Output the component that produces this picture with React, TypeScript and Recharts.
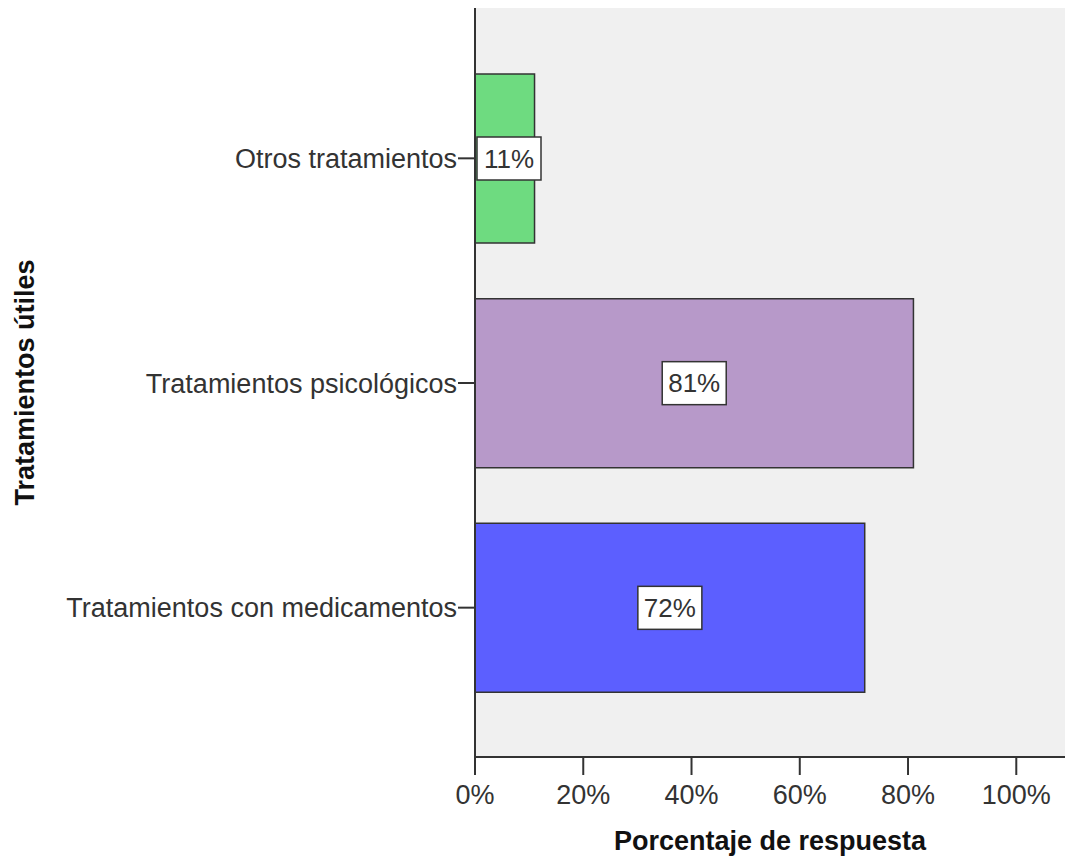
import React from "react";
import { BarChart, Bar, XAxis, YAxis, Cell, LabelList, CartesianGrid } from "recharts";

const categories = ["Otros tratamientos", "Tratamientos psicológicos", "Tratamientos con medicamentos"];
const percentages = [11, 81, 72];
const barColors = ["#6EDB80", "#B799C9", "#5C5FFF"];
const xTicks = [0, 20, 40, 60, 80, 100];

const data = categories.map((name, i) => ({ name, value: percentages[i] }));

const FONT = "'Liberation Sans', Arial, sans-serif";

const BoxLabel = (props: any) => {
  const { x, y, width, height, value } = props;
  const bw = 64;
  const bh = 43;
  const cx = x + width / 2;
  let left = cx - bw / 2;
  if (left < x + 2) left = x + 2;
  const top = y + height / 2 - bh / 2;
  return (
    <g>
      <rect x={left} y={top} width={bw} height={bh} fill="#ffffff" stroke="#333" strokeWidth={1.5} />
      <text
        x={left + bw / 2}
        y={top + bh / 2}
        textAnchor="middle"
        dominantBaseline="central"
        fontFamily={FONT}
        fontSize={26}
        fill="#333"
      >
        {`${value}%`}
      </text>
    </g>
  );
};

export default function App() {
  return (
    <div style={{ position: "absolute", left: 0, top: 0, background: "#fff" }}>
      <BarChart
        width={1066}
        height={859}
        data={data}
        layout="vertical"
        margin={{ top: 8, right: 1, bottom: 0, left: 0 }}
      >
        <CartesianGrid horizontal={false} vertical={false} fill="#F0F0F0" />
        <XAxis
          type="number"
          domain={[0, 109]}
          ticks={xTicks}
          tickFormatter={(v: number) => `${v}%`}
          height={102}
          tickSize={18}
          tickMargin={10}
          axisLine={{ stroke: "#333", strokeWidth: 2 }}
          tickLine={{ stroke: "#333", strokeWidth: 2 }}
          tick={{ fontFamily: FONT, fontSize: 27, fill: "#333" }}
          label={{
            value: "Porcentaje de respuesta",
            position: "insideBottom",
            offset: 9,
            style: { fontFamily: FONT, fontSize: 27, fontWeight: "bold", fill: "#111" },
          }}
          allowDataOverflow
        />
        <XAxis
          xAxisId="top"
          orientation="top"
          type="number"
          domain={[0, 109]}
          height={0}
          tick={false}
          tickLine={false}
          axisLine={{ stroke: "#808080", strokeWidth: 2 }}
        />
        <YAxis
          type="category"
          dataKey="name"
          width={475}
          padding={{ top: 38, bottom: 37 }}
          tickSize={17}
          tickMargin={1}
          axisLine={{ stroke: "#333", strokeWidth: 2 }}
          tickLine={{ stroke: "#333", strokeWidth: 2 }}
          tick={{ fontFamily: FONT, fontSize: 27, fill: "#333" }}
          label={{
            value: "Tratamientos útiles",
            angle: -90,
            position: "insideLeft",
            offset: 24,
            style: { fontFamily: FONT, fontSize: 27, fontWeight: "bold", fill: "#111", textAnchor: "middle" },
          }}
        />
        <Bar dataKey="value" barSize={169} stroke="#333" strokeWidth={1.5} isAnimationActive={false}>
          {data.map((d, i) => (
            <Cell key={d.name} fill={barColors[i]} />
          ))}
          <LabelList dataKey="value" content={BoxLabel} />
        </Bar>
      </BarChart>
    </div>
  );
}
